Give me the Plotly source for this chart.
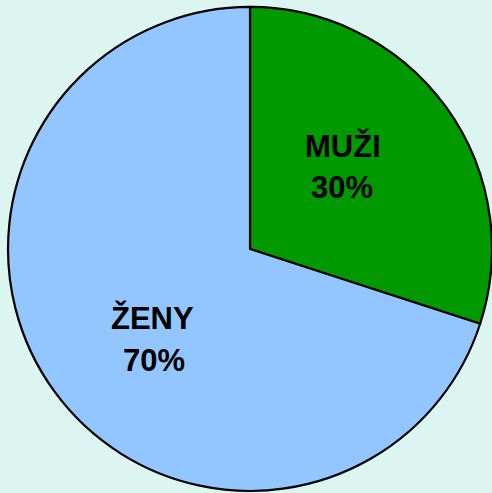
import plotly.graph_objects as go

labels = ["MUŽI", "ŽENY"]
values = [30, 70]
colors = ["#009900", "#93C6FE"]

BG = "#DDF5F1"
FONT = dict(family="Arial, Liberation Sans, sans-serif", size=31, color="black")

# text anchor positions (paper coords) for label line and percent line
label_pos = [(0.697, 0.704), (0.309, 0.355)]
pct_pos = [(0.695, 0.619), (0.313, 0.268)]

total = sum(values)

fig = go.Figure(go.Pie(
    labels=labels,
    values=values,
    sort=False,
    direction="clockwise",
    rotation=0,
    marker=dict(colors=colors, line=dict(color="black", width=2.2)),
    textinfo="none",
    showlegend=False,
    hoverinfo="label+percent",
    domain=dict(x=[0.0163, 1.0], y=[0.004, 0.986]),
))

annotations = []
for lab, val, lp, pp in zip(labels, values, label_pos, pct_pos):
    annotations.append(dict(x=lp[0], y=lp[1], xref="paper", yref="paper",
                            text=f"<b>{lab}</b>", showarrow=False, font=FONT,
                            xanchor="center", yanchor="middle"))
    annotations.append(dict(x=pp[0], y=pp[1], xref="paper", yref="paper",
                            text=f"<b>{round(100 * val / total)}%</b>", showarrow=False, font=FONT,
                            xanchor="center", yanchor="middle"))

fig.update_layout(
    width=492,
    height=493,
    margin=dict(l=0, r=0, t=0, b=0),
    paper_bgcolor=BG,
    plot_bgcolor=BG,
    annotations=annotations,
)

fig.write_html("out.html",
               config=dict(displayModeBar=False),
               post_script="document.body.style.margin='0';document.body.style.background='" + BG + "';")
